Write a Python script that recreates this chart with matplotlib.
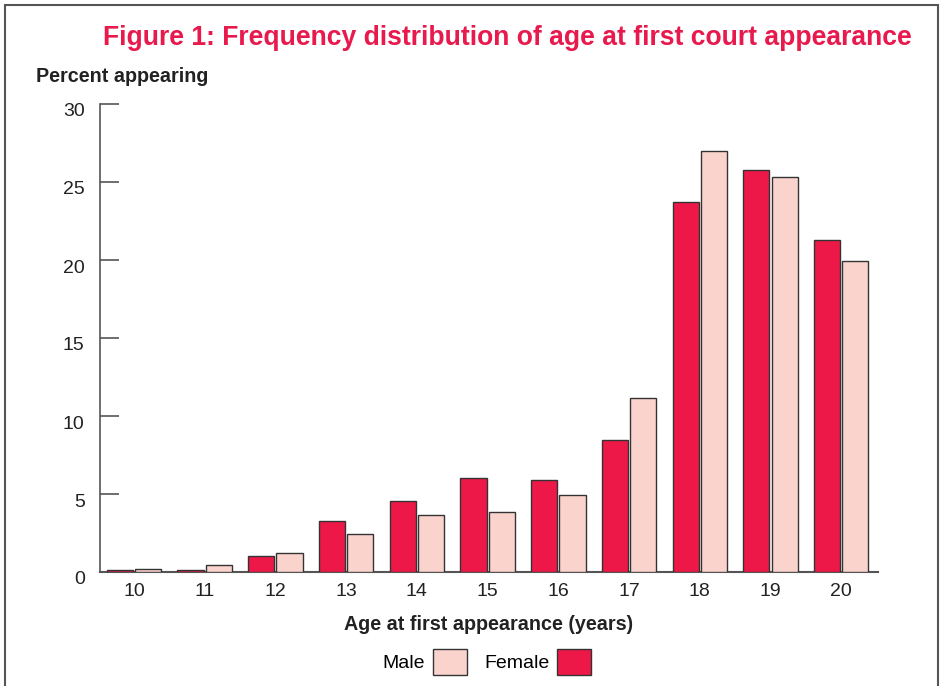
import matplotlib
matplotlib.use("Agg")
import matplotlib.pyplot as plt
import matplotlib.transforms as mtransforms
import numpy as np
from matplotlib.patches import Rectangle, Patch

ages = ["10", "11", "12", "13", "14", "15", "16", "17", "18", "19", "20"]
female = [0.1, 0.1, 1.0, 3.3, 4.55, 6.0, 5.9, 8.45, 23.7, 25.8, 21.25]
male = [0.2, 0.45, 1.2, 2.45, 3.65, 3.85, 4.95, 11.15, 27.0, 25.35, 19.95]
yticks = [0, 5, 10, 15, 20, 25, 30]

RED = "#EE1848"
PINK = "#FAD4CC"
EDGE = "#333333"
TITLE = "#E8194D"

plt.rcParams['font.family'] = ['Liberation Sans', 'DejaVu Sans']

fig = plt.figure(figsize=(9.45, 6.86), dpi=100)
ax = fig.add_axes([100/945, 1-572/686, 778/945, 468/686])

x = np.arange(len(ages))
w = 0.37
ax.bar(x - 0.2, female, width=w, color=RED, edgecolor=EDGE, linewidth=1.0, zorder=3)
ax.bar(x + 0.2, male, width=w, color=PINK, edgecolor=EDGE, linewidth=1.0, zorder=3)

ax.set_xlim(-0.48, 10.52)
ax.set_ylim(0, 30)
ax.set_xticks(x)
ax.set_xticklabels(ages)
ax.set_yticks(yticks)
ax.tick_params(axis='x', length=0, pad=8, labelsize=14, labelcolor="#222222")
ax.tick_params(axis='y', direction='in', length=14, width=1.2, color="#555555",
               pad=11, labelsize=14, labelcolor="#222222")
offset = mtransforms.ScaledTranslation(0, -6/100, fig.dpi_scale_trans)
for lab in ax.get_yticklabels():
    lab.set_transform(lab.get_transform() + offset)
for s in ["top", "right"]:
    ax.spines[s].set_visible(False)
ax.spines["left"].set_color("#555555")
ax.spines["left"].set_linewidth(1.2)
ax.spines["bottom"].set_color("#555555")
ax.spines["bottom"].set_linewidth(1.5)

ax.set_xlabel("Age at first appearance (years)", fontsize=14.2, fontweight="bold",
              color="#222222", labelpad=11)

fig.text(912/945, 1-38/686, "Figure 1: Frequency distribution of age at first court appearance",
         ha="right", va="center", fontsize=19.1, fontweight="bold", color=TITLE)
fig.text(36/945, 1-77/686, "Percent appearing", ha="left", va="center",
         fontsize=14.2, fontweight="bold", color="#222222")

handles = [Patch(facecolor=PINK, edgecolor=EDGE, label="Male"),
           Patch(facecolor=RED, edgecolor=EDGE, label="Female")]
fig.legend(handles=handles, loc="center", bbox_to_anchor=(487/945, 1-662/686),
           ncol=2, frameon=False, markerfirst=False, fontsize=14,
           handlelength=1.75, handleheight=1.7, handletextpad=0.4, columnspacing=0.9)

fig.patches.append(Rectangle((5/945, -0.1), 933/945, 1.1 - 5/686, transform=fig.transFigure,
                             fill=False, edgecolor="#555555", linewidth=1.5))

fig.savefig("out.png", dpi=100)
